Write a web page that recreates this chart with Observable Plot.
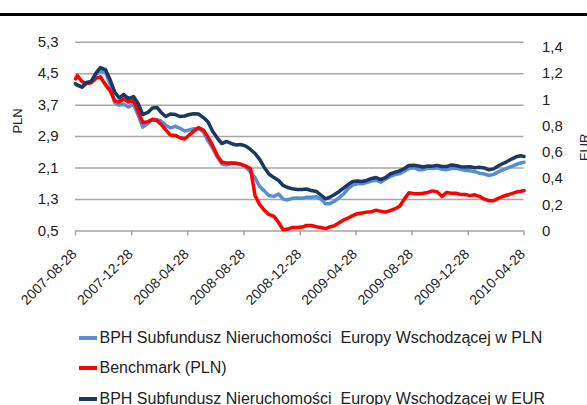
<!DOCTYPE html>
<html><head><meta charset="utf-8">
<script src="https://cdn.jsdelivr.net/npm/d3@7"></script>
<script src="https://cdn.jsdelivr.net/npm/@observablehq/plot@0.6"></script>
<style>
body{margin:0;background:#fff;font-family:"Liberation Sans",Arial,sans-serif;}
#wrap{position:relative;width:587px;height:405px;overflow:hidden;background:#fff;}
#topline{position:absolute;left:0;top:13px;width:587px;height:3px;background:#000;}
#chart{position:absolute;left:0;top:0;}
.leg{position:absolute;left:99.5px;font-size:16px;color:#222;white-space:pre;line-height:16px;}
.sw{position:absolute;left:79px;width:18px;height:4px;}
</style></head>
<body>
<div id="wrap">
<div id="chart"></div>
<div id="topline"></div>
<div id="legend"></div>
</div>
<script>
const dates = ["2007-08-28","2007-09-01","2007-09-11","2007-09-21","2007-10-01","2007-10-11","2007-10-21","2007-11-01","2007-11-11","2007-11-21",
"2007-12-01","2007-12-11","2007-12-21","2008-01-01","2008-01-11","2008-01-21","2008-02-01","2008-02-11","2008-02-21","2008-03-01",
"2008-03-11","2008-03-21","2008-04-01","2008-04-11","2008-04-21","2008-05-01","2008-05-11","2008-05-21","2008-06-01","2008-06-11",
"2008-06-21","2008-07-01","2008-07-11","2008-07-21","2008-08-01","2008-08-11","2008-08-21","2008-09-01","2008-09-11","2008-09-21",
"2008-10-01","2008-10-11","2008-10-21","2008-11-01","2008-11-11","2008-11-21","2008-12-01","2008-12-11","2008-12-21","2009-01-01",
"2009-01-11","2009-01-21","2009-02-01","2009-02-11","2009-02-21","2009-03-01","2009-03-11","2009-03-21","2009-04-01","2009-04-11",
"2009-04-21","2009-05-01","2009-05-11","2009-05-21","2009-06-01","2009-06-11","2009-06-21","2009-07-01","2009-07-11","2009-07-21",
"2009-08-01","2009-08-11","2009-08-21","2009-09-01","2009-09-11","2009-09-21","2009-10-01","2009-10-11","2009-10-21","2009-11-01",
"2009-11-11","2009-11-21","2009-12-01","2009-12-11","2009-12-21","2010-01-01","2010-01-11","2010-01-21","2010-02-01","2010-02-11",
"2010-02-21","2010-03-01","2010-03-11","2010-03-21","2010-04-01","2010-04-11","2010-04-21","2010-04-28"];

const fundPLN = [4.24,4.20,4.15,4.25,4.28,4.47,4.57,4.54,4.24,3.77,
3.70,3.72,3.65,3.73,3.45,3.14,3.23,3.35,3.33,3.29,
3.19,3.12,3.16,3.11,3.04,3.07,3.10,3.10,3.02,2.79,
2.60,2.38,2.20,2.18,2.22,2.22,2.19,2.12,2.01,1.85,
1.63,1.52,1.40,1.38,1.44,1.31,1.29,1.33,1.34,1.33,
1.36,1.36,1.37,1.31,1.19,1.19,1.25,1.33,1.44,1.58,
1.67,1.70,1.70,1.73,1.77,1.79,1.74,1.82,1.88,1.93,
1.96,2.02,2.09,2.11,2.06,2.06,2.10,2.09,2.11,2.07,
2.06,2.09,2.10,2.07,2.04,2.03,2.01,1.97,1.95,1.91,
1.94,1.99,2.04,2.09,2.14,2.19,2.23,2.25];

const benchmarkPLN = [4.37,4.45,4.30,4.25,4.27,4.38,4.42,4.22,4.07,3.81,
3.78,3.86,3.78,3.82,3.54,3.26,3.28,3.33,3.31,3.21,
3.07,2.94,2.93,2.87,2.84,2.94,3.04,3.13,3.06,2.88,
2.67,2.42,2.25,2.23,2.23,2.22,2.20,2.15,2.09,1.40,
1.17,1.03,0.92,0.87,0.72,0.53,0.55,0.59,0.59,0.60,
0.64,0.64,0.61,0.59,0.56,0.60,0.63,0.70,0.78,0.83,
0.89,0.94,0.96,0.98,0.99,1.03,1.00,0.98,1.02,1.06,
1.13,1.31,1.47,1.45,1.45,1.46,1.48,1.52,1.50,1.38,
1.48,1.46,1.46,1.43,1.43,1.40,1.42,1.38,1.31,1.27,
1.27,1.32,1.37,1.41,1.45,1.49,1.51,1.53];

const fundEUR = [1.121,1.112,1.097,1.131,1.139,1.200,1.245,1.230,1.154,1.059,
1.013,1.040,1.009,1.024,0.971,0.887,0.903,0.937,0.941,0.903,
0.872,0.891,0.887,0.872,0.876,0.887,0.893,0.891,0.864,0.830,
0.758,0.708,0.666,0.682,0.666,0.655,0.659,0.647,0.621,0.590,
0.545,0.484,0.434,0.407,0.385,0.347,0.331,0.321,0.316,0.316,
0.320,0.308,0.301,0.274,0.245,0.255,0.274,0.297,0.327,0.354,
0.377,0.381,0.377,0.385,0.400,0.407,0.392,0.407,0.434,0.446,
0.458,0.476,0.499,0.501,0.495,0.487,0.495,0.494,0.500,0.491,
0.491,0.503,0.499,0.490,0.487,0.489,0.482,0.485,0.480,0.466,
0.473,0.491,0.510,0.527,0.548,0.565,0.573,0.567];

const leftTicks = [0.5,1.3,2.1,2.9,3.7,4.5,5.3];
const rightTicks = [0,0.2,0.4,0.6,0.8,1,1.2,1.4];
const xTicks = ["2007-08-28","2007-12-28","2008-04-28","2008-08-28","2008-12-28","2009-04-28","2009-08-28","2009-12-28","2010-04-28"];
const leftDomain = [0.5, 5.3];
const rightDomain = [0, 1.438];

const seriesNames = ["BPH Subfundusz Nieruchomości  Europy Wschodzącej w PLN","Benchmark (PLN)","BPH Subfundusz Nieruchomości  Europy Wschodzącej w EUR"];
const colors = ["#558ed5","#ff0000","#1b3764"];

const parse = d3.utcParse("%Y-%m-%d");
const toLeft = v => leftDomain[0] + (v - rightDomain[0]) / (rightDomain[1] - rightDomain[0]) * (leftDomain[1] - leftDomain[0]);
const comma = v => String(v).replace(".", ",");

const rows = dates.map((d, i) => ({date: parse(d), pln: fundPLN[i], bench: benchmarkPLN[i], eur: toLeft(fundEUR[i])}));
const xTickDates = xTicks.map(parse);

const chart = Plot.plot({
  width: 587, height: 320,
  marginLeft: 75, marginRight: 63.5, marginTop: 41.7, marginBottom: 89.5,
  x: {type: "utc", domain: [parse(xTicks[0]), parse(xTicks[xTicks.length-1])], axis: null},
  y: {domain: leftDomain, axis: null},
  style: {fontFamily: "'Liberation Sans', Arial, sans-serif", background: "transparent", overflow: "visible"},
  marks: [
    Plot.ruleY(leftTicks, {stroke: "#a6a6a6", strokeWidth: 1.5}),
    Plot.axisX(xTickDates, {tickSize: 5, tickFormat: () => "", stroke: "#a6a6a6", strokeWidth: 1.5}),
    Plot.text(xTicks, {x: d => parse(d), text: d => d, frameAnchor: "bottom", rotate: -45, textAnchor: "end", dx: 2, dy: 24, fontSize: 14, fill: "#222"}),
    Plot.text(leftTicks, {y: d => d, text: d => d.toFixed(1).replace(".", ","), frameAnchor: "left", textAnchor: "end", dx: -17, fontSize: 15, fill: "#222"}),
    Plot.text(rightTicks, {y: d => toLeft(d), text: d => comma(d), frameAnchor: "right", textAnchor: "start", dx: 18, fontSize: 15, fill: "#222"}),
    Plot.text(["PLN"], {frameAnchor: "left", dx: -58, dy: -3, rotate: -90, fontSize: 13, fill: "#222"}),
    Plot.text(["EUR"], {frameAnchor: "right", dx: 60.5, dy: -3, rotate: -90, fontSize: 13, fill: "#222"}),
    Plot.line(rows, {x: "date", y: "pln", stroke: colors[0], strokeWidth: 3.5, strokeLinejoin: "round"}),
    Plot.line(rows, {x: "date", y: "bench", stroke: colors[1], strokeWidth: 3.5, strokeLinejoin: "round"}),
    Plot.line(rows, {x: "date", y: "eur", stroke: colors[2], strokeWidth: 3.5, strokeLinejoin: "round"})
  ]
});
document.getElementById("chart").appendChild(chart);

const legend = document.getElementById("legend");
const rowTops = [329.7, 360.3, 390.8];
const swatchCenters = [338, 368.3, 398.5];
seriesNames.forEach((name, i) => {
  const sw = document.createElement("div");
  sw.className = "sw";
  sw.style.top = (swatchCenters[i] - 2) + "px";
  sw.style.background = colors[i];
  legend.appendChild(sw);
  const t = document.createElement("div");
  t.className = "leg";
  t.style.top = rowTops[i] + "px";
  t.textContent = name;
  legend.appendChild(t);
});
</script>
</body></html>
